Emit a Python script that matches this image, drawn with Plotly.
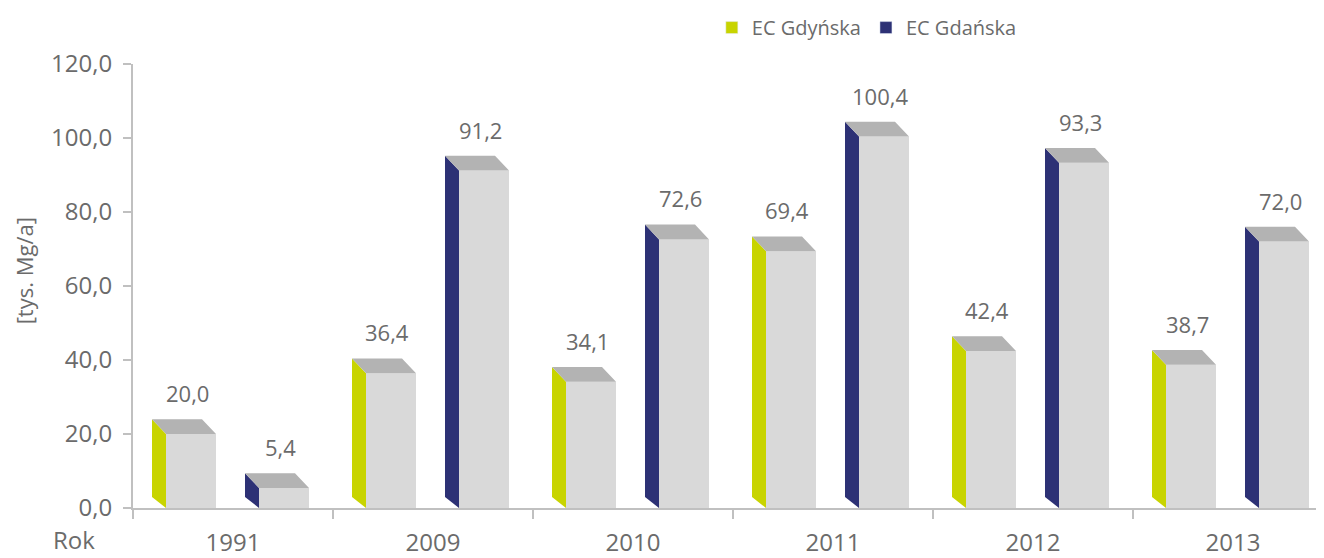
import plotly.graph_objects as go

# ---- data ----
years = ["1991", "2009", "2010", "2011", "2012", "2013"]
gdynska = [20.0, 36.4, 34.1, 69.4, 42.4, 38.7]
gdanska = [5.4, 91.2, 72.6, 100.4, 93.3, 72.0]
series_names = ["EC Gdyńska", "EC Gdańska"]
y_ticks = [0, 20, 40, 60, 80, 100, 120]

# ---- styling ----
FRONT = "#d9d9d9"
TOP = "#b3b3b3"
SIDE = ["#c8d400", "#2d3175"]
TXT = "#6b6b6b"
AXIS = "#c0c0c0"
FONT = "Open Sans"

BAR_W = 0.25          # front face width (category units)
OFFS = [0.29, 0.755]  # front face centre within category
DX = 0.07             # depth offset in x (category units)
DY_TOP = 4.0          # depth offset in y (value units)
DY_BOT = 3.0

fig = go.Figure()

for s, vals in enumerate([gdynska, gdanska]):
    xs = [i + OFFS[s] for i in range(len(years))]
    # front faces
    fig.add_trace(go.Bar(x=xs, y=vals, width=BAR_W, marker=dict(color=FRONT, line=dict(width=0)),
                         showlegend=False, hoverinfo="skip"))
    # side faces and top faces (built from the values)
    sx, sy, tx, ty = [], [], [], []
    for xc, v in zip(xs, vals):
        x0, x1 = xc - BAR_W / 2, xc + BAR_W / 2
        sx += [x0 - DX, x0, x0, x0 - DX, x0 - DX, None]
        sy += [v + DY_TOP, v, 0, DY_BOT, v + DY_TOP, None]
        tx += [x0 - DX, x1 - DX, x1, x0, x0 - DX, None]
        ty += [v + DY_TOP, v + DY_TOP, v, v, v + DY_TOP, None]
    fig.add_trace(go.Scatter(x=sx, y=sy, mode="lines", fill="toself", fillcolor=SIDE[s],
                             line=dict(width=0, color=SIDE[s]), showlegend=False, hoverinfo="skip"))
    fig.add_trace(go.Scatter(x=tx, y=ty, mode="lines", fill="toself", fillcolor=TOP,
                             line=dict(width=0, color=TOP), showlegend=False, hoverinfo="skip"))
    # legend entry
    fig.add_trace(go.Bar(x=[None], y=[None], name=series_names[s], marker=dict(color=SIDE[s])))
    # value labels
    for xc, v in zip(xs, vals):
        fig.add_annotation(x=xc - 0.02, y=v, text=f"{v:.1f}".replace(".", ","), showarrow=False,
                           yshift=41, xanchor="center", yanchor="middle",
                           font=dict(family=FONT, size=22, color=TXT))

fig.add_annotation(xref="paper", yref="paper", x=-0.0495, y=-0.0705, text="Rok", showarrow=False,
                   xanchor="center", yanchor="middle", font=dict(family=FONT, size=24, color=TXT))
fig.add_annotation(xref="paper", yref="paper", x=-0.0915, y=0.533, text="[tys. Mg/a]", showarrow=False,
                   textangle=-90, xanchor="center", yanchor="middle",
                   font=dict(family=FONT, size=22, color=TXT))

fig.update_layout(
    width=1316, height=550,
    margin=dict(l=125, r=0, t=51, b=45),
    paper_bgcolor="white", plot_bgcolor="white",
    barmode="overlay",
    separators=", ",
    font=dict(family=FONT, color=TXT),
    legend=dict(orientation="h", x=0.486, y=1.082, xanchor="left", yanchor="middle",
                font=dict(family=FONT, size=20, color=TXT), bgcolor="rgba(0,0,0,0)",
                itemclick=False),
    xaxis=dict(range=[0, 5.955], showgrid=False, zeroline=False,
               showline=True, linecolor=AXIS, linewidth=2,
               tickmode="array", tickvals=[i + 0.5 for i in range(len(years))], ticktext=years,
               ticks="outside", ticklen=12, tickcolor="rgba(0,0,0,0)",
               tickfont=dict(family=FONT, size=24, color=TXT),
               minor=dict(tickmode="array", tickvals=list(range(len(years) + 1)), ticks="outside",
                          ticklen=9, tickcolor=AXIS, tickwidth=1.5, showgrid=False)),
    yaxis=dict(range=[0, 120], showgrid=False, zeroline=False,
               showline=True, linecolor=AXIS, linewidth=2,
               tickmode="array", tickvals=y_ticks, tickformat=".1f",
               ticks="outside", ticklen=8, tickcolor=AXIS, tickwidth=1.5,
               ticklabelstandoff=6,
               tickfont=dict(family=FONT, size=24, color=TXT)),
)

fig.write_html("out.html")
